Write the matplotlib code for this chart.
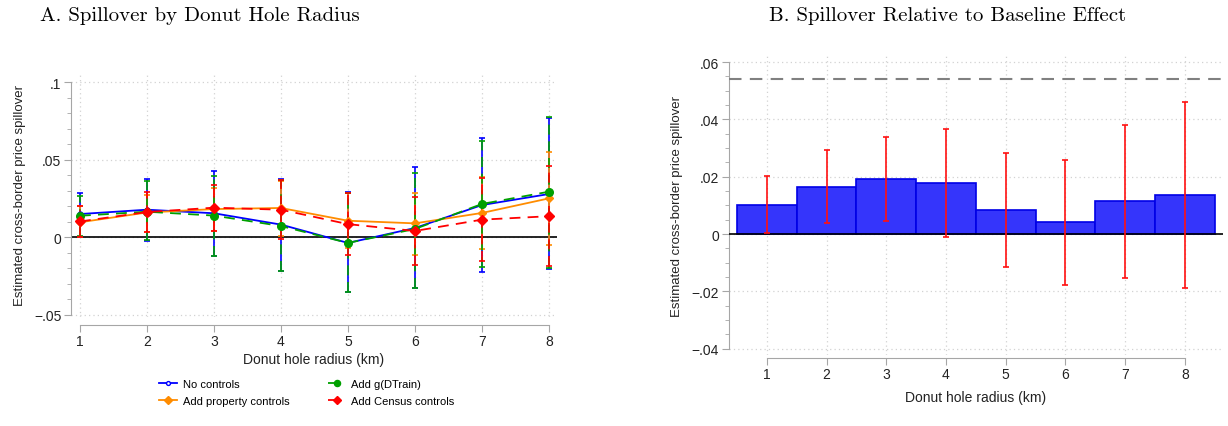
import matplotlib
matplotlib.use("Agg")
import matplotlib.pyplot as plt
import numpy as np
from matplotlib.lines import Line2D
from matplotlib.ticker import MultipleLocator, FixedLocator

plt.rcParams['font.family'] = ['Liberation Sans', 'DejaVu Sans']

# donut hole radius (km)
radius = [1, 2, 3, 4, 5, 6, 7, 8]

# panel A: estimates and 95% CI by specification
no_ctrl = [0.0150, 0.0178, 0.0155, 0.0082, -0.0036, 0.0060, 0.0208, 0.0279]
no_ctrl_lo = [0.0004, -0.0021, -0.0118, -0.0215, -0.0354, -0.0328, -0.0225, -0.0204]
no_ctrl_hi = [0.0288, 0.0376, 0.0425, 0.0376, 0.0290, 0.0450, 0.0640, 0.0766]

prop_ctrl = [0.0097, 0.0160, 0.0182, 0.0189, 0.0107, 0.0090, 0.0157, 0.0251]
prop_ctrl_lo = [0.0000, 0.0032, 0.0043, 0.0010, -0.0070, -0.0114, -0.0075, -0.0049]
prop_ctrl_hi = [0.0200, 0.0275, 0.0315, 0.0366, 0.0284, 0.0285, 0.0390, 0.0552]

dtrain = [0.0139, 0.0165, 0.0140, 0.0073, -0.0036, 0.0054, 0.0215, 0.0294]
dtrain_lo = [0.0010, -0.0020, -0.0118, -0.0219, -0.0350, -0.0324, -0.0189, -0.0197]
dtrain_hi = [0.0268, 0.0365, 0.0397, 0.0369, 0.0283, 0.0414, 0.0618, 0.0777]

census = [0.0102, 0.0163, 0.0191, 0.0178, 0.0085, 0.0041, 0.0114, 0.0136]
census_lo = [0.0002, 0.0037, 0.0044, -0.0009, -0.0114, -0.0177, -0.0155, -0.0187]
census_hi = [0.0203, 0.0293, 0.0340, 0.0368, 0.0284, 0.0259, 0.0382, 0.0460]

baseline = 0.054

y_ticks_a = [-0.05, 0, 0.05, 0.1]
y_labels_a = ['\u2212.05', '0', '.05', '.1']
y_ticks_b = [-0.04, -0.02, 0, 0.02, 0.04, 0.06]
y_labels_b = ['\u2212.04', '\u2212.02', '0', '.02', '.04', '.06']

ylab = 'Estimated cross-border price spillover'
xlab = 'Donut hole radius (km)'

AX_GRAY = '#a6a6a6'
GRID = '#d2d2d2'

fig = plt.figure(figsize=(12.28, 4.27), dpi=100)


def style_axes(ax, xb, yb, bottom_out):
    for s in ['top', 'right']:
        ax.spines[s].set_visible(False)
    ax.spines['left'].set_color(AX_GRAY)
    ax.spines['bottom'].set_color(AX_GRAY)
    ax.spines['left'].set_bounds(*yb)
    ax.spines['bottom'].set_bounds(*xb)
    ax.spines['bottom'].set_position(('outward', bottom_out))
    ax.tick_params(axis='both', which='major', length=5, color=AX_GRAY,
                   labelsize=10, labelcolor='#222222', pad=2)
    ax.tick_params(axis='y', which='minor', length=3, color=AX_GRAY)
    ax.grid(True, which='major', linestyle=(0, (1, 2.5)), color=GRID, linewidth=0.9)
    ax.set_axisbelow(True)


# ---------- Panel A ----------
ax1 = fig.add_axes([0.0578, 0.2553, 0.3958, 0.5738])
series = [
    ('No controls', no_ctrl, no_ctrl_lo, no_ctrl_hi, '#0000ff', '-', 'o', 3.5, 'white'),
    ('Add property controls', prop_ctrl, prop_ctrl_lo, prop_ctrl_hi, '#ff8c00', '-', 'D', 4.5, None),
    ('Add g(DTrain)', dtrain, dtrain_lo, dtrain_hi, '#00a000', '--', 'o', 5.5, None),
    ('Add Census controls', census, census_lo, census_hi, '#ff0000', '--', 'D', 5.5, None),
]
ax1.axhline(0, color='black', linewidth=1.2, zorder=1)
handles = []
for name, est, lo, hi, col, ls, mk, ms, mfc in series:
    est = np.array(est)
    err = [est - np.array(lo), np.array(hi) - est]
    dash = (0, (6, 4)) if ls == '--' else '-'
    cont = ax1.errorbar(radius, est, yerr=err, color=col, linewidth=1.3,
                        marker=mk, markersize=ms,
                        markerfacecolor=(mfc if mfc else col), markeredgecolor=col,
                        capsize=2.5, elinewidth=1.2, capthick=1.2, zorder=3)
    cont[0].set_linestyle(dash)
    cont[2][0].set_linestyle(dash)
    handles.append(Line2D([], [], color=col, linestyle=dash, linewidth=1.3, marker=mk,
                          markersize=ms * 0.8, markerfacecolor=(mfc if mfc else col),
                          markeredgecolor=col, label=name))

ax1.set_xlim(0.866, 8.12)
ax1.set_ylim(-0.0513, 0.1065)
ax1.set_xticks(radius)
ax1.yaxis.set_major_locator(FixedLocator(y_ticks_a))
ax1.set_yticklabels(y_labels_a)
ax1.yaxis.set_minor_locator(MultipleLocator(0.01))
style_axes(ax1, (1, 8), (-0.05, 0.1), 6)
ax1.tick_params(axis='x', pad=1)
ax1.set_xlabel(xlab, fontsize=10, color='#222222', labelpad=3)
ax1.set_ylabel(ylab, fontsize=9.5, color='#222222', labelpad=6)

fig.legend(handles=handles, loc='center', bbox_to_anchor=(0.250, 0.078), ncol=2,
           frameon=False, fontsize=8, handlelength=1.6, handletextpad=0.5,
           columnspacing=3.5, labelspacing=0.62)

fig.text(0.163, 0.962, 'A. Spillover by Donut Hole Radius', family='cmr10',
         fontsize=15, ha='center', va='center')

# ---------- Panel B ----------
ax2 = fig.add_axes([0.5936, 0.1663, 0.4023, 0.700])
cen = np.array(census)
ax2.bar(radius, cen, width=1.0, color='#3535fb', edgecolor='#0000e6', linewidth=1.2, zorder=2)
ax2.errorbar(radius, cen, yerr=[cen - np.array(census_lo), np.array(census_hi) - cen],
             fmt='none', ecolor='#ff1010', elinewidth=1.2, capsize=2.5, capthick=1.2, zorder=4)
ax2.axhline(0, color='black', linewidth=1.2, zorder=3)
ax2.plot([0.364, 8.75], [baseline, baseline], color='#808080', linewidth=1.5,
         linestyle=(0, (6, 4)), zorder=3, clip_on=False)

ax2.set_xlim(0.364, 8.64)
ax2.set_ylim(-0.0422, 0.0621)
ax2.set_xticks(radius)
ax2.yaxis.set_major_locator(FixedLocator(y_ticks_b))
ax2.set_yticklabels(y_labels_b)
ax2.yaxis.set_minor_locator(MultipleLocator(0.005))
style_axes(ax2, (1, 8), (-0.04, 0.06), 2)
ax2.set_xlabel(xlab, fontsize=10, color='#222222', labelpad=6)
ax2.set_ylabel(ylab, fontsize=9.5, color='#222222', labelpad=6)

fig.text(0.772, 0.962, 'B. Spillover Relative to Baseline Effect', family='cmr10',
         fontsize=15, ha='center', va='center')

fig.savefig('out.png', dpi=100)
